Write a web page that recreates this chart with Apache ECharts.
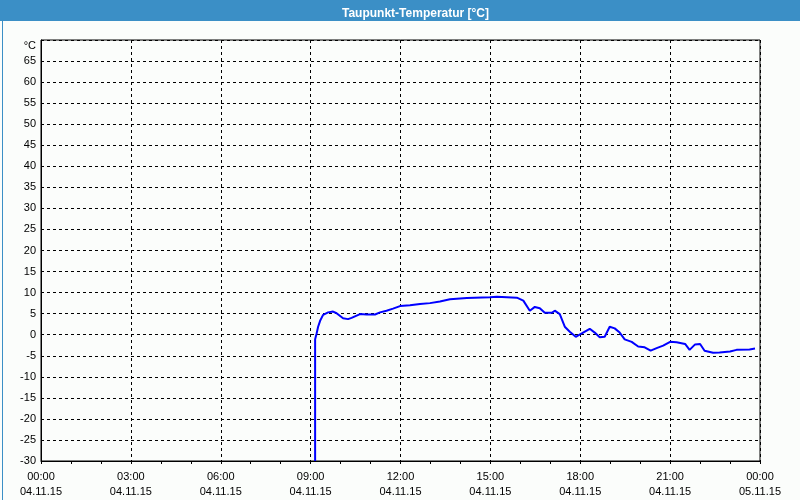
<!DOCTYPE html>
<html>
<head>
<meta charset="utf-8">
<script src="https://cdn.jsdelivr.net/npm/echarts@6/dist/echarts.min.js"></script>
<style>
html,body{margin:0;padding:0;background:#fbfdfb;}
#c{width:800px;height:500px;}
</style>
</head>
<body>
<div id="c"></div>
<script>
// ---- data ----
var titleText = 'Taupunkt-Temperatur [°C]';
var unitLabel = '°C';
var xTickTimes = ['00:00','03:00','06:00','09:00','12:00','15:00','18:00','21:00','00:00'];
var xTickDates = ['04.11.15','04.11.15','04.11.15','04.11.15','04.11.15','04.11.15','04.11.15','04.11.15','05.11.15'];
var times = ['09:09','09:09','09:12','09:15','09:19','09:25','09:35','09:45','09:52','10:05','10:15','10:22','10:39','10:52','11:09','11:19','11:32','11:45','11:59','12:19','12:39','12:59','13:19','13:39','14:13','14:59','15:13','15:53','16:06','16:19','16:29','16:39','16:49','17:03','17:09','17:19','17:29','17:39','17:51','18:03','18:19','18:29','18:39','18:49','18:59','19:09','19:19','19:29','19:43','19:56','20:09','20:21','20:33','20:46','21:00','21:13','21:30','21:39','21:50','22:00','22:09','22:26','22:39','23:00','23:13','23:39','23:50'];
var dewPoint = [-30,-1.1,0.3,1.9,3.3,4.7,5.3,5.5,5.1,3.9,3.7,4.0,4.9,4.8,4.8,5.3,5.7,6.2,6.8,7.0,7.3,7.5,7.9,8.4,8.7,8.9,9.0,8.8,8.1,5.7,6.6,6.3,5.2,5.2,5.7,4.9,1.9,0.7,-0.5,0.3,1.4,0.5,-0.6,-0.5,1.9,1.5,0.5,-1.1,-1.7,-2.8,-3.0,-3.8,-3.2,-2.6,-1.7,-1.8,-2.2,-3.6,-2.3,-2.2,-3.8,-4.3,-4.2,-4.0,-3.6,-3.5,-3.3];

function toHours(s){var p=s.split(':');return (+p[0])+(+p[1])/60;}
var seriesData = times.map(function(t,i){return [toHours(t), dewPoint[i]];});

var font = 'Liberation Sans, Arial, sans-serif';
var chart = echarts.init(document.getElementById('c'), null, {renderer:'canvas'});
chart.setOption({
  animation:false,
  backgroundColor:'#fbfdfb',
  graphic:[
    {type:'rect', left:0, top:0, z:-1, shape:{width:800,height:21}, style:{fill:'#3b8fc6'}},
    {type:'rect', left:0, top:0, z:-1, shape:{x:0.5,y:0.5,width:799,height:499}, style:{fill:null, stroke:'#3b8fc6', lineWidth:1}}
  ],
  title:{
    text:titleText, left:337, top:3,
    textStyle:{color:'#ffffff', fontFamily:font, fontSize:12, fontWeight:'bold'}
  },
  grid:{left:41, right:40, top:40, bottom:39, show:true, borderColor:'#000', borderWidth:1, backgroundColor:'transparent'},
  xAxis:{
    type:'value', min:0, max:24, interval:3,
    axisLine:{show:true, onZero:false, lineStyle:{color:'#000', width:1}},
    axisTick:{show:true, length:3, lineStyle:{color:'#000'}},
    minorTick:{show:true, splitNumber:3, length:3, lineStyle:{color:'#000'}},
    splitLine:{show:true, lineStyle:{color:'#000', type:[3,3], width:1}},
    axisLabel:{
      color:'#000', fontFamily:font, fontSize:11, margin:8, lineHeight:15,
      formatter:function(v){var i=Math.round(v/3);return xTickTimes[i]+'\n'+xTickDates[i];}
    }
  },
  yAxis:{
    type:'value', min:-30, max:70, interval:5,
    axisLine:{show:true, onZero:false, lineStyle:{color:'#000', width:1}},
    axisTick:{show:false},
    splitLine:{show:true, lineStyle:{color:'#000', type:[3,3], width:1}},
    axisLabel:{
      color:'#000', fontFamily:font, fontSize:11, margin:5,
      formatter:function(v){return v===70 ? '{u|'+unitLabel+'}' : String(v);},
      rich:{u:{color:'#000', fontFamily:font, fontSize:11, padding:[12,0,0,0]}}
    }
  },
  series:[{
    type:'line', data:seriesData, showSymbol:false, smooth:false,
    lineStyle:{color:'#0000ff', width:2}, itemStyle:{color:'#0000ff'}
  }]
});
</script>
</body>
</html>
